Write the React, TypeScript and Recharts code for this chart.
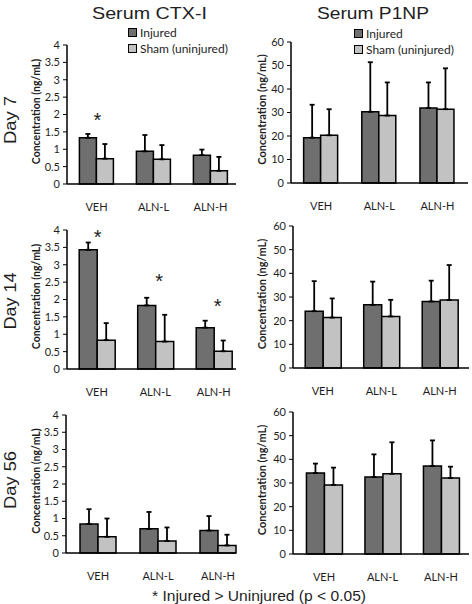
import React from 'react';
import { BarChart, Bar, XAxis, YAxis, ErrorBar, ReferenceDot } from 'recharts';

// ---------- data ----------
const groups = ['VEH', 'ALN-L', 'ALN-H'];
const seriesNames = ['Injured', 'Sham (uninjured)'];

// Serum CTX-I (ng/mL): means and upper SD
const ctxDay7Injured = [1.33, 0.94, 0.83];
const ctxDay7InjuredSD = [0.11, 0.47, 0.16];
const ctxDay7Sham = [0.73, 0.71, 0.38];
const ctxDay7ShamSD = [0.42, 0.41, 0.4];

const ctxDay14Injured = [3.43, 1.83, 1.19];
const ctxDay14InjuredSD = [0.21, 0.22, 0.2];
const ctxDay14Sham = [0.83, 0.79, 0.51];
const ctxDay14ShamSD = [0.49, 0.77, 0.31];

const ctxDay56Injured = [0.84, 0.7, 0.65];
const ctxDay56InjuredSD = [0.43, 0.49, 0.42];
const ctxDay56Sham = [0.47, 0.35, 0.22];
const ctxDay56ShamSD = [0.53, 0.39, 0.31];

// Serum P1NP (ng/mL): means and upper SD
const p1npDay7Injured = [19.3, 30.3, 31.9];
const p1npDay7InjuredSD = [14.0, 21.1, 10.9];
const p1npDay7Sham = [20.3, 28.7, 31.4];
const p1npDay7ShamSD = [11.1, 14.1, 17.4];

const p1npDay14Injured = [24.0, 26.7, 28.1];
const p1npDay14InjuredSD = [12.7, 9.8, 8.8];
const p1npDay14Sham = [21.3, 21.8, 28.7];
const p1npDay14ShamSD = [8.1, 7.0, 14.8];

const p1npDay56Injured = [34.2, 32.5, 37.2];
const p1npDay56InjuredSD = [4.0, 9.6, 10.8];
const p1npDay56Sham = [29.2, 33.9, 32.1];
const p1npDay56ShamSD = [7.3, 13.3, 4.8];

// significance markers (value level of the asterisk), null = none
const ctxDay7Stars = [1.96, null, null];
const ctxDay14Stars = [3.92, 2.65, 1.94];

const ctxTicks = [0, 0.5, 1, 1.5, 2, 2.5, 3, 3.5, 4];
const p1npTicks = [0, 10, 20, 30, 40, 50, 60];

// ---------- styles ----------
const INJ = '#6f6f6f';
const SHAM = '#c2c2c2';
const TXT = '#1e1e1e';
const SANS = 'Lato, "Open Sans", sans-serif';
const ARIAL = '"Liberation Sans", Arial, sans-serif';

type Row = { group: string; injured: number; injuredErr: number[]; sham: number; shamErr: number[] };

function build(inj: number[], injSD: number[], sh: number[], shSD: number[]): Row[] {
  return groups.map((g, i) => ({
    group: g,
    injured: inj[i],
    injuredErr: [0, injSD[i]],
    sham: sh[i],
    shamErr: [0, shSD[i]],
  }));
}

const AxisTitle = (props: any) => {
  const { cx, cy, size } = props;
  return (
    <text
      x={cx}
      y={cy}
      transform={`rotate(-90 ${cx} ${cy})`}
      textAnchor="middle"
      dominantBaseline="central"
      fontFamily={SANS}
      fontWeight={700}
      fontSize={size}
      fill={TXT}
    >
      Concentration (ng/mL)
    </text>
  );
};

type PanelProps = {
  data: Row[];
  left: number;
  width: number;
  x0: number;
  x1: number;
  y0: number;
  y1: number;
  domain: [number, number];
  ticks: number[];
  padding: { left: number; right: number };
  labelX: number;
  labelSize: number;
  stars?: (number | null)[];
  starDx?: number[];
};

function Panel(p: PanelProps) {
  const top = p.y0 - 20;
  const xAxisH = 40;
  const height = p.y1 - p.y0 + 20 + xAxisH + 5;
  const yAxisW = p.x0 - p.left;
  const mRight = p.left + p.width - p.x1;
  const labelCx = p.labelX - p.left;
  const labelCy = (p.y0 + p.y1) / 2 - top - 3;
  return (
    <div style={{ position: 'absolute', left: p.left, top, width: p.width, height }}>
      <BarChart
        width={p.width}
        height={height}
        data={p.data}
        margin={{ top: 20, right: mRight, bottom: 5, left: 0 }}
        barCategoryGap="20%"
        barGap={0}
      >
        <XAxis
          dataKey="group"
          height={xAxisH}
          tickLine={false}
          tickSize={0}
          tickMargin={19}
          padding={p.padding}
          axisLine={{ stroke: '#000', strokeWidth: 1.5 }}
          tick={{ fontSize: 11, fill: TXT, fontFamily: SANS }}
          interval={0}
        />
        <YAxis
          type="number"
          width={yAxisW}
          domain={p.domain}
          ticks={p.ticks}
          interval={0}
          tickSize={4}
          tickMargin={3}
          axisLine={{ stroke: '#000', strokeWidth: 1.5 }}
          tickLine={{ stroke: '#000', strokeWidth: 1 }}
          tick={{ fontSize: 11, fill: TXT, fontFamily: SANS }}
          label={<AxisTitle cx={labelCx} cy={labelCy} size={p.labelSize} />}
        />
        <Bar dataKey="injured" fill={INJ} stroke="#000" strokeWidth={1.5} isAnimationActive={false}>
          <ErrorBar dataKey="injuredErr" width={2.5} stroke="#000" strokeWidth={1.8} direction="y" />
        </Bar>
        <Bar dataKey="sham" fill={SHAM} stroke="#000" strokeWidth={1.5} isAnimationActive={false}>
          <ErrorBar dataKey="shamErr" width={2.5} stroke="#000" strokeWidth={1.8} direction="y" />
        </Bar>
        {(p.stars || []).map((s, i) =>
          s == null ? null : (
            <ReferenceDot
              key={i}
              x={groups[i]}
              y={s}
              r={0}
              shape={(sp: any) => (
                <text
                  x={sp.cx + (p.starDx ? p.starDx[i] : 0)}
                  y={sp.cy + 11.5}
                  textAnchor="middle"
                  fontFamily={ARIAL}
                  fontSize={20}
                  fill={TXT}
                >
                  *
                </text>
              )}
            />
          )
        )}
      </BarChart>
    </div>
  );
}

function LegendBox({ x, y }: { x: number; y: number }) {
  return (
    <g>
      <rect x={x + 0.5} y={y - 3.5} width={8} height={8} fill={INJ} stroke="#000" strokeWidth={1} />
      <text x={x + 12} y={y} dominantBaseline="central" fontFamily={SANS} fontSize={12} fill={TXT}>
        {seriesNames[0]}
      </text>
      <rect x={x + 0.5} y={y + 12.5} width={8} height={8} fill={SHAM} stroke="#000" strokeWidth={1} />
      <text x={x + 12} y={y + 16} dominantBaseline="central" fontFamily={SANS} fontSize={12} fill={TXT}>
        {seriesNames[1]}
      </text>
    </g>
  );
}

export default function App() {
  return (
    <div style={{ position: 'absolute', left: 0, top: 0, width: 472, height: 604, background: '#fff', overflow: 'hidden' }}>
      <Panel
        data={build(ctxDay7Injured, ctxDay7InjuredSD, ctxDay7Sham, ctxDay7ShamSD)}
        left={0} width={240} x0={67} x1={236} y0={45} y1={184}
        domain={[0, 4]} ticks={ctxTicks} padding={{ left: 1, right: -3 }}
        labelX={35.5} labelSize={10.5}
        stars={ctxDay7Stars} starDx={[1, 4, 4]}
      />
      <Panel
        data={build(ctxDay14Injured, ctxDay14InjuredSD, ctxDay14Sham, ctxDay14ShamSD)}
        left={0} width={240} x0={67} x1={236} y0={230} y1={369}
        domain={[0, 4]} ticks={ctxTicks} padding={{ left: 0.5, right: -7 }}
        labelX={35.5} labelSize={10.5}
        stars={ctxDay14Stars} starDx={[1, 4, 4]}
      />
      <Panel
        data={build(ctxDay56Injured, ctxDay56InjuredSD, ctxDay56Sham, ctxDay56ShamSD)}
        left={0} width={240} x0={66} x1={236} y0={415} y1={553}
        domain={[0, 4]} ticks={ctxTicks} padding={{ left: 2, right: -12 }}
        labelX={35.5} labelSize={10.5}
      />
      <Panel
        data={build(p1npDay7Injured, p1npDay7InjuredSD, p1npDay7Sham, p1npDay7ShamSD)}
        left={240} width={232} x0={291} x1={468} y0={42} y1={183}
        domain={[0, 60]} ticks={p1npTicks} padding={{ left: 1, right: 1.5 }}
        labelX={261.5} labelSize={11}
      />
      <Panel
        data={build(p1npDay14Injured, p1npDay14InjuredSD, p1npDay14Sham, p1npDay14ShamSD)}
        left={240} width={232} x0={293} x1={469} y0={226} y1={368}
        domain={[0, 60]} ticks={p1npTicks} padding={{ left: 0.5, right: 0 }}
        labelX={261.5} labelSize={11}
      />
      <Panel
        data={build(p1npDay56Injured, p1npDay56InjuredSD, p1npDay56Sham, p1npDay56ShamSD)}
        left={240} width={232} x0={293} x1={469} y0={412} y1={554}
        domain={[0, 60]} ticks={p1npTicks} padding={{ left: 1.75, right: -1.25 }}
        labelX={261.5} labelSize={11}
      />
      <svg width={472} height={604} style={{ position: 'absolute', left: 0, top: 0, pointerEvents: 'none' }}>
        <text x={149.5 - 57.5} y={12.5} textLength={115} lengthAdjust="spacingAndGlyphs" dominantBaseline="central" fontFamily={ARIAL} fontSize={16.5} fill={TXT}>
          Serum CTX-I
        </text>
        <text x={373 - 56} y={12.5} textLength={112} lengthAdjust="spacingAndGlyphs" dominantBaseline="central" fontFamily={ARIAL} fontSize={16.5} fill={TXT}>
          Serum P1NP
        </text>
        {[
          { t: 'Day 7', cy: 120, len: 48 },
          { t: 'Day 14', cy: 301, len: 57 },
          { t: 'Day 56', cy: 480, len: 58 },
        ].map((d) => (
          <text
            key={d.t}
            x={10}
            y={d.cy + d.len / 2}
            transform={`rotate(-90 10 ${d.cy + d.len / 2})`}
            textLength={d.len}
            lengthAdjust="spacingAndGlyphs"
            dominantBaseline="central"
            fontFamily={ARIAL}
            fontSize={16}
            fill={TXT}
          >
            {d.t}
          </text>
        ))}
        <LegendBox x={128} y={32} />
        <LegendBox x={354} y={33} />
        <text x={152} y={595} textLength={214} lengthAdjust="spacingAndGlyphs" dominantBaseline="central" fontFamily={ARIAL} fontSize={15.5} fill={TXT}>
          * Injured &gt; Uninjured (p &lt; 0.05)
        </text>
      </svg>
    </div>
  );
}
